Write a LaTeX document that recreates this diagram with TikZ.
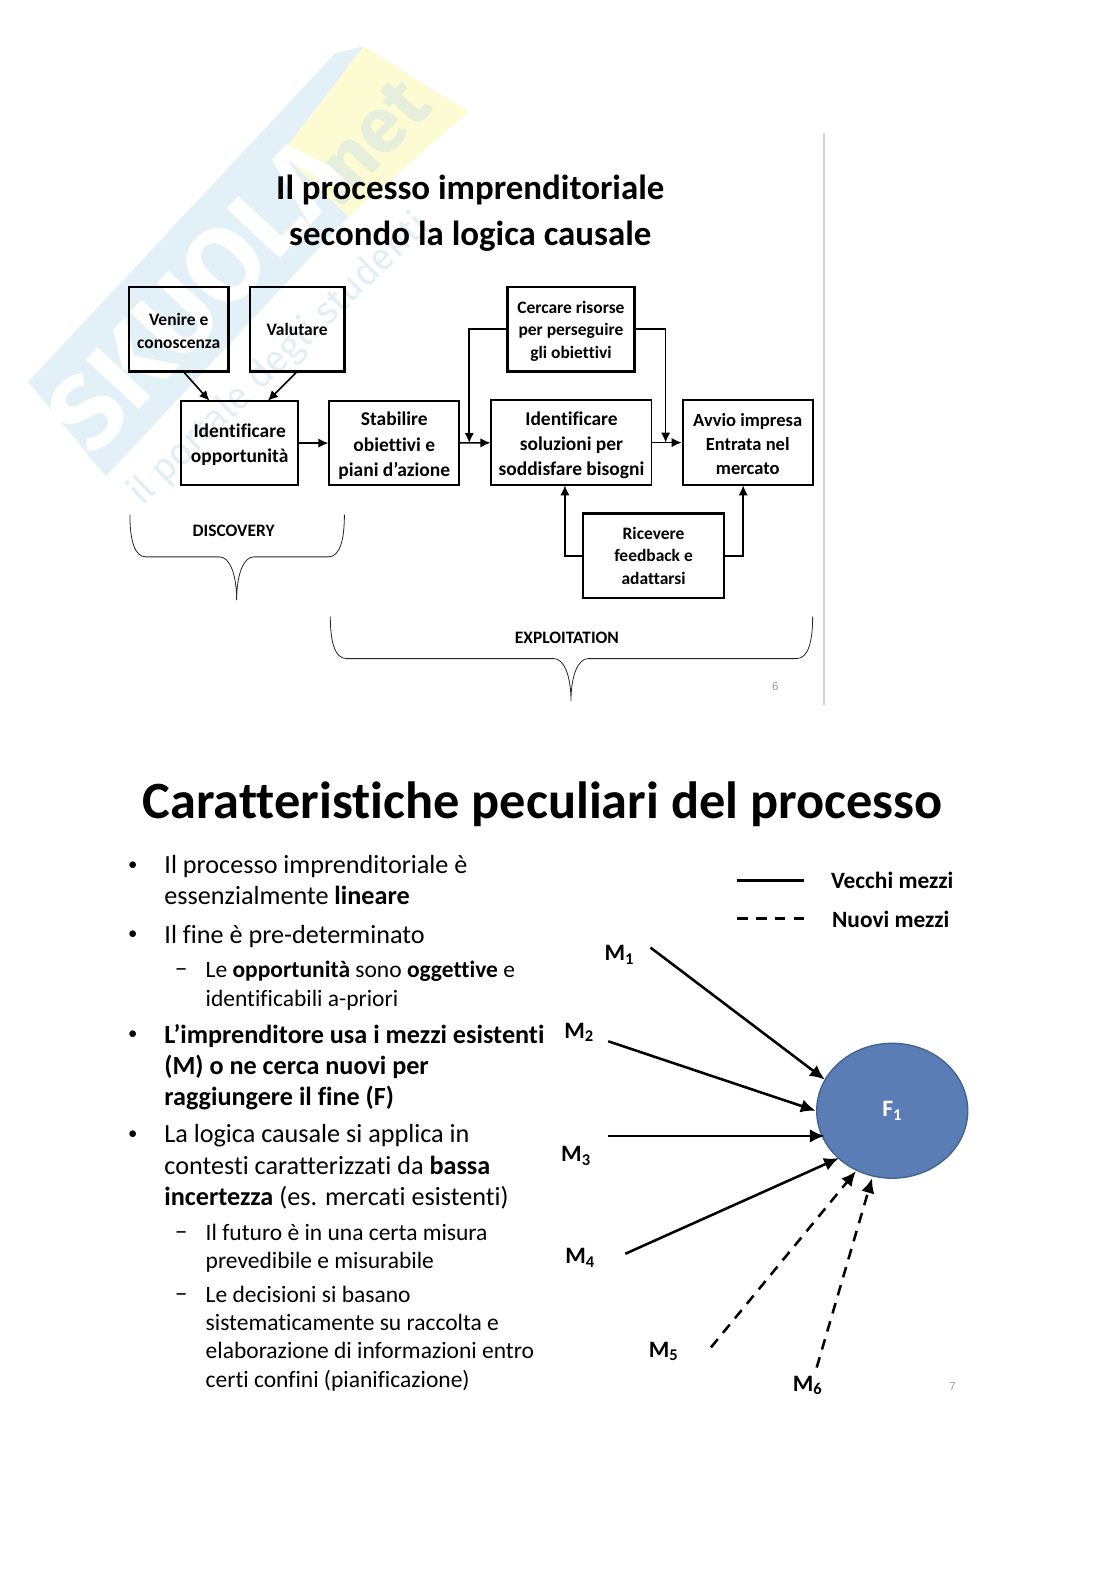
\documentclass[tikz,border=0pt]{standalone}
\usepackage{fontspec}
\setmainfont{Carlito}[Ligatures=NoCommon]
\newfontfamily\wmfont{Fira Sans}
\newfontfamily\pnfont{Liberation Sans}
\usetikzlibrary{arrows.meta,shapes.geometric}
\def\pxu{0.75pt}
\newcommand{\dnA}{\rule{0pt}{14.2pt}}
\newcommand{\dnB}{\rule{0pt}{12pt}}
\definecolor{wmblue}{HTML}{E2F0F7}
\definecolor{wmyellow}{HTML}{FCFBD2}
\definecolor{wmtext}{HTML}{E0EEF5}
\definecolor{wmnettext}{HTML}{E6EFDC}
\definecolor{fcfill}{HTML}{5A7DB6}
\definecolor{fcline}{HTML}{3F6391}
\tikzset{
 bA/.style={draw=black,line width=1.4pt,inner sep=0pt,align=center,font=\bfseries\fontsize{14.5}{18.8}\selectfont},
 bB/.style={draw=black,line width=1.6pt,inner sep=0pt,align=center,font=\bfseries\fontsize{13.8}{18}\selectfont},
 bC/.style={draw=black,line width=1.7pt,inner sep=0pt,align=center,font=\bfseries\fontsize{13}{17}\selectfont},
 conn/.style={draw=black,line width=1.2pt,-{Latex[length=7.5pt,width=7pt]}},
 mean/.style={draw=black,line width=1.9pt,-{Latex[length=11pt,width=10pt]}},
 meand/.style={mean,dash pattern=on 8pt off 6pt},
 brc/.style={draw=black!85,line width=0.6pt},
 title/.style={inner sep=0pt,anchor=base,font=\bfseries\fontsize{26}{34}\selectfont},
 lone/.style={inner sep=0pt,anchor=base west,align=left,font=\fontsize{19.5}{23.3}\selectfont},
 ltwo/.style={inner sep=0pt,anchor=base west,align=left,font=\fontsize{17.5}{21}\selectfont},
 bul/.style={inner sep=0pt,anchor=base,font=\fontsize{14}{16}\selectfont},
 dsh/.style={inner sep=0pt,anchor=base,font=\fontsize{19}{20}\selectfont},
 mlab/.style={inner sep=0pt,font=\bfseries\fontsize{17.5}{19}\selectfont},
 blab/.style={inner sep=0pt,font=\bfseries\fontsize{13}{15}\selectfont},
 leg/.style={inner sep=0pt,anchor=west,font=\bfseries\fontsize{17.4}{19}\selectfont},
 pnum/.style={inner sep=0pt,text=black!40,font=\pnfont\fontsize{8.5}{9}\selectfont},
}
\newcommand{\msub}[1]{M\textsubscript{#1}}
\begin{document}
\begin{tikzpicture}[x=0.75pt,y=-0.75pt]
\useasboundingbox (0,0) rectangle (1108,1568);
% watermark
\fill[wmblue] (28,379) -- (333,53) -- (361,46) -- (280,152) -- (346,215) -- (105,473) -- cycle;
\fill[wmyellow] (280,152) -- (361,46) -- (465,111) -- (346,215) -- cycle;
\node[rotate=47,text=white,inner sep=0pt,font=\wmfont\bfseries\fontsize{78}{80}\selectfont] (wmname) at (196,292) {SKUOLA};
\node[rotate=47,text=wmnettext,inner sep=0pt,font=\wmfont\bfseries\fontsize{58}{60}\selectfont] (wmnet) at (366,140) {.net};
\node[rotate=44,text=wmtext,inner sep=0pt,font=\wmfont\fontsize{28}{30}\selectfont] (wmtag) at (277,357) {il portale degli studenti};
% slide rule
\draw[black!18,line width=1.2pt] (818,132) coordinate (ra) -- (818,700) coordinate (rb);
% top title
\node[title] (t1) at (467,198) {Il processo imprenditoriale};
\node[title] (t2) at (467,244) {secondo la logica causale};
% boxes
\node[bC,minimum width=99*\pxu,minimum height=84*\pxu] (ven) at (177.5,327) {\dnB Venire e\\conoscenza};
\node[bC,minimum width=94*\pxu,minimum height=84*\pxu] (val) at (295,327) {Valutare};
\node[bA,minimum width=116*\pxu,minimum height=84*\pxu] (opp) at (238,440) {\dnB Identificare\\opportunità};
\node[bA,minimum width=129*\pxu,minimum height=84*\pxu] (sta) at (391.5,440) {\dnA Stabilire\\obiettivi e\\piani d’azione};
\node[bA,minimum width=159*\pxu,minimum height=85*\pxu] (sol) at (567.5,439.5) {\dnA Identificare\\soluzioni per\\soddisfare bisogni};
\node[bB,minimum width=129*\pxu,minimum height=85*\pxu] (avv) at (742.5,439.5) {\dnB Avvio impresa\\Entrata nel\\mercato};
\node[bC,minimum width=126*\pxu,minimum height=84*\pxu] (cer) at (567,327) {\dnB Cercare risorse\\per perseguire\\gli obiettivi};
\node[bC,minimum width=140*\pxu,minimum height=84*\pxu] (ric) at (649,552) {Ricevere\\feedback e\\adattarsi};
% connectors
\coordinate (va) at (183,370);
\coordinate (vb) at (208,398);
\coordinate (wa) at (294,370);
\coordinate (wb) at (266,398);
\coordinate (ja) at (466,440);
\coordinate (jb) at (661,439.5);
\coordinate (ka) at (561,482);
\coordinate (kb) at (738,482);
\draw[conn] (va) -- (vb);
\draw[conn] (wa) -- (wb);
\draw[conn] (opp) -- (sta);
\draw[conn] (sta) -- (sol);
\draw[conn] (sol) -- (avv);
\draw[conn] (cer.west) -| (ja);
\draw[conn] (cer.east) -| (jb);
\draw[conn] (ric.west) -| (ka);
\draw[conn] (ric.east) -| (kb);
% braces
\draw[brc] (129,511) .. controls (129,535) and (133,553) .. (145,553) -- (218,553) .. controls (228,553) and (235,570) .. (235,596) .. controls (235,570) and (242,553) .. (252,553) -- (326,553) .. controls (338,553) and (342,535) .. (342,511);
\draw[brc] (328,612) .. controls (328,636) and (332,654) .. (344,654) -- (550,654) .. controls (560,654) and (567,671) .. (567,696) .. controls (567,671) and (574,654) .. (584,654) -- (791,654) .. controls (803,654) and (807,636) .. (807,612);
\node[blab] (dis) at (232,527) {DISCOVERY};
\node[blab] (exp) at (563,633) {EXPLOITATION};
\node[pnum] (p6) at (770,682) {6};
% bottom title
\node[title,font=\bfseries\fontsize{39}{44}\selectfont] (big) at (539,813) {Caratteristiche peculiari del processo};
% bullets
\node[bul] (b1) at (132,864) {•};
\node[lone] (x1) at (163,898) {Il processo imprenditoriale è\\essenzialmente \textbf{lineare}};
\node[bul] (b2) at (132,933) {•};
\node[lone] (x2) at (163,936.5) {Il fine è pre-determinato};
\node[dsh] (d1) at (180,970) {–};
\node[ltwo] (x3) at (204,999) {Le \textbf{opportunità} sono \textbf{oggettive} e\\identificabili a-priori};
\node[bul] (b3) at (132,1032) {•};
\node[lone,font=\bfseries\fontsize{19.5}{23.3}\selectfont] (x4) at (163,1098) {L’imprenditore usa i mezzi esistenti\\(M) o ne cerca nuovi per\\raggiungere il fine (F)};
\node[bul] (b4) at (132,1132) {•};
\node[lone] (x5) at (163,1197) {La logica causale si applica in\\contesti caratterizzati da \textbf{bassa}\\\textbf{incertezza} (es. mercati esistenti)};
\node[dsh] (d2) at (180,1231) {–};
\node[ltwo] (x6) at (204,1260) {Il futuro è in una certa misura\\prevedibile e misurabile};
\node[dsh] (d3) at (180,1292) {–};
\node[ltwo] (x7) at (204,1377.5) {Le decisioni si basano\\sistematicamente su raccolta e\\elaborazione di informazioni entro\\certi confini (pianificazione)};
% legend
\coordinate (la) at (732,874);
\coordinate (lb) at (798,874);
\coordinate (lc) at (732,912);
\coordinate (ld) at (798,912);
\draw[black,line width=2.1pt] (la) -- (lb);
\draw[black,line width=2.1pt,dash pattern=on 8pt off 6pt] (lc) -- (ld);
\node[leg] (l1) at (825,874) {Vecchi mezzi};
\node[leg] (l2) at (826,913) {Nuovi mezzi};
% means
\node[ellipse,draw=fcline,line width=1pt,fill=fcfill,minimum width=150*\pxu,minimum height=134*\pxu,inner sep=0pt,text=white,font=\bfseries\fontsize{17.5}{19}\selectfont] (f) at (886,1103) {F\textsubscript{1}};
\node[mlab] (m1) at (615,948) {\msub{1}};
\node[mlab] (m2) at (575,1025) {\msub{2}};
\node[mlab] (m3) at (572,1148) {\msub{3}};
\node[mlab] (m4) at (576,1249) {\msub{4}};
\node[mlab] (m5) at (659,1342) {\msub{5}};
\node[mlab] (m6) at (802,1376) {\msub{6}};
\coordinate (a1) at (646,941);
\coordinate (b1e) at (819,1072);
\coordinate (a2) at (604,1034);
\coordinate (b2e) at (810,1103);
\coordinate (a3) at (604,1128);
\coordinate (b3e) at (819,1128);
\coordinate (a4) at (621,1245);
\coordinate (b4e) at (833,1150);
\coordinate (a5) at (706,1338);
\coordinate (b5e) at (850,1163);
\coordinate (a6) at (811,1358);
\coordinate (b6e) at (866,1170);
\draw[mean] (a1) -- (b1e);
\draw[mean] (a2) -- (b2e);
\draw[mean] (a3) -- (b3e);
\draw[mean] (a4) -- (b4e);
\draw[meand] (a5) -- (b5e);
\draw[meand] (a6) -- (b6e);
\node[pnum] (p7) at (946,1377) {7};
\end{tikzpicture}
\end{document}
